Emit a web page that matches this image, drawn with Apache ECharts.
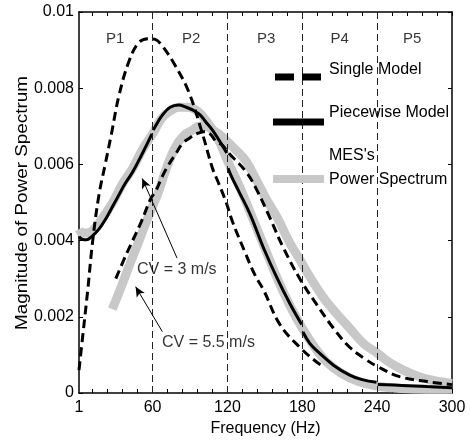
<!DOCTYPE html>
<html><head><meta charset="utf-8">
<script src="https://cdn.jsdelivr.net/npm/echarts@6/dist/echarts.min.js"></script>
<style>html,body{margin:0;padding:0;background:#fff}#c{width:470px;height:443px}</style>
</head><body><div id="c"></div>
<script>
// ---- axis ticks / labels ----
const xTickLabels = [1, 60, 120, 180, 240, 300];
const xMinorTicks = [12,24,36,48,60,72,84,96,108,120,132,144,156,168,180,192,204,216,228,240,252,264,276,288,300];
const boundaries = [60, 120, 180, 240];
const periodLabels = ['P1', 'P2', 'P3', 'P4', 'P5'];
const periodX = [30, 91, 151, 210, 268];
const periodY = [0.0093, 0.0093, 0.0093, 0.0093, 0.0093];

// ---- Single model, CV = 3 m/s (dashed) ----
const singleCv3X = [1, 4, 8, 12, 17, 22, 27, 33, 41, 49, 57, 62, 68, 78, 89, 100, 108, 113, 119, 124, 134, 142, 149, 162, 178, 192, 197];
const singleCv3Y = [0.0006, 0.0015, 0.0027, 0.0040, 0.0052, 0.0060, 0.0068, 0.0078, 0.0087, 0.0092, 0.0093, 0.00928, 0.0091, 0.0086, 0.0079, 0.0068, 0.0059, 0.0055, 0.0050, 0.0045, 0.0037, 0.0031, 0.0027, 0.0018, 0.0012, 0.0008, 0.0007];

// ---- Single model, CV = 5.5 m/s (dashed) ----
const singleCv55X = [30.5, 37, 44, 51, 58.5, 62.5, 68, 73, 79, 84, 90, 95, 101, 106, 111, 116, 121, 135, 144, 154, 165, 178, 192, 205, 218, 230, 240, 258, 280, 300];
const singleCv55Y = [0.0030, 0.0035, 0.0040, 0.0045, 0.0051, 0.0053, 0.0057, 0.0060, 0.0063, 0.00655, 0.0067, 0.0068, 0.00686, 0.0068, 0.0066, 0.0065, 0.0063, 0.0058, 0.0053, 0.0046, 0.0038, 0.0030, 0.0023, 0.0017, 0.0012, 0.0009, 0.0007, 0.00043, 0.0003, 0.00022];

// ---- Piecewise model, CV = 3 m/s (solid; null separates the segments) ----
const pieceX = [1, 4, 7, 11, 17, 23, 28, 33, 38, 44, 52, 59.5, null,
                60.5, 64, 68, 74, 81, 87, 92, 98, 103, 108, 113, 119.5, null,
                120.5, 123, 129, 138, 149, 160, 170, 179.5, null,
                180.5, 186, 192, 205, 218, 228, 239.5, null,
                240.5, 260, 280, 300];
const pieceY = [0.0041, 0.00403, 0.00402, 0.0041, 0.0043, 0.0046, 0.0049, 0.0052, 0.0055, 0.0058, 0.0063, 0.0068, null,
                0.0069, 0.0071, 0.0073, 0.0075, 0.00756, 0.0075, 0.00743, 0.0073, 0.0071, 0.0069, 0.00665, 0.0063, null,
                0.0059, 0.0057, 0.0053, 0.0047, 0.0038, 0.0030, 0.00235, 0.0018, null,
                0.0016, 0.0013, 0.0011, 0.00073, 0.00047, 0.00035, 0.00028, null,
                0.00022, 0.0002, 0.00017, 0.00014];

// ---- MES's power spectrum, CV = 3 m/s (gray) ----
const mesCv3X = [1, 4, 8, 13, 20, 28, 36, 44, 52, 60, 67, 74, 81, 88, 96, 104, 112, 120, 130, 140, 150, 160, 170, 180, 190, 200, 212, 225, 240, 260, 280, 300];
const mesCv3Y = [0.0043, 0.0042, 0.0042, 0.0043, 0.0046, 0.0050, 0.0055, 0.0059, 0.0064, 0.0068, 0.0072, 0.0074, 0.0075, 0.0075, 0.0074, 0.0071, 0.0067, 0.0061, 0.0054, 0.0046, 0.0038, 0.0030, 0.0023, 0.0017, 0.0012, 0.0008, 0.0005, 0.0003, 0.00018, 0.00012, 0.0001, 0.0001];

// ---- MES's power spectrum, CV = 5.5 m/s (gray) ----
const mesCv55X = [27.7, 35, 42, 48, 55, 60, 65, 70, 76, 81, 86.5, 92, 97, 103, 108, 113, 118.6, 126, 134.6, 143, 151, 160, 169, 178, 187, 197, 207, 218, 229, 240, 250, 261, 272, 282, 292, 300];
const mesCv55Y = [0.0022, 0.0028, 0.0034, 0.0039, 0.0045, 0.0049, 0.0053, 0.0058, 0.0063, 0.0066, 0.0068, 0.0069, 0.0070, 0.0070, 0.0069, 0.0068, 0.00664, 0.0064, 0.0061, 0.0056, 0.0051, 0.0046, 0.0040, 0.0035, 0.0030, 0.0025, 0.0021, 0.0017, 0.0013, 0.00105, 0.0008, 0.0006, 0.00045, 0.00035, 0.00029, 0.00025];

// ---- annotations ----
const cvLabels = ['CV = 3 m/s', 'CV = 5.5 m/s'];
const cvLabelX = [47.5, 67.5];
const cvLabelY = [0.00323, 0.00131];
const arrowFromX = [79.6, 67.8];
const arrowFromY = [0.00354, 0.00161];
const arrowToX = [51.7, 46.4];
const arrowToY = [0.00563, 0.00279];

const FONT = '"Liberation Sans", Arial, sans-serif';
const pairs = (xs, ys) => xs.map((x, i) => [x, ys[i]]);

// split piecewise into segments
const pieceSegments = [];
let cur = [];
pieceX.forEach((x, i) => {
  if (x === null) { pieceSegments.push(cur); cur = []; }
  else cur.push([x, pieceY[i]]);
});
if (cur.length) pieceSegments.push(cur);

const chart = echarts.init(document.getElementById('c'), null, {renderer: 'canvas'});

const axisLineStyle = {show: true, onZero: false, lineStyle: {color: '#000', width: 1.5}};
const xAxisBase = {
  type: 'value', min: 1, max: 300,
  axisLine: axisLineStyle,
  axisTick: {show: true, inside: true, length: 4, customValues: xMinorTicks, lineStyle: {color: '#000', width: 1}},
  splitLine: {show: false}
};
const yAxisBase = {
  type: 'value', min: 0, max: 0.01, interval: 0.002,
  axisLine: axisLineStyle,
  axisTick: {show: true, inside: true, length: 4, lineStyle: {color: '#000', width: 1}},
  splitLine: {show: false}
};

const series = [];
series.push({
  name: "MES's Power Spectrum", type: 'line', data: pairs(mesCv3X, mesCv3Y),
  symbol: 'none', smooth: 0.4, lineStyle: {color: '#c8c8c8', width: 9}, z: 1, silent: true
});
series.push({
  name: "MES's Power Spectrum", type: 'line', data: pairs(mesCv55X, mesCv55Y),
  symbol: 'none', smooth: 0.4, lineStyle: {color: '#c8c8c8', width: 9}, z: 1, silent: true
});
series.push({
  name: 'boundaries', type: 'line', data: [], symbol: 'none', z: 2, silent: true,
  markLine: {
    silent: true, symbol: ['none', 'none'], label: {show: false}, animation: false,
    lineStyle: {type: [7, 4], color: '#222', width: 1},
    data: boundaries.map(v => ({xAxis: v}))
  }
});
series.push({
  name: 'Single Model', type: 'line', data: pairs(singleCv3X, singleCv3Y),
  symbol: 'none', smooth: 0.4, lineStyle: {color: '#000', width: 3, type: [9, 5]}, z: 3, silent: true
});
series.push({
  name: 'Single Model', type: 'line', data: pairs(singleCv55X, singleCv55Y),
  symbol: 'none', smooth: 0.4, lineStyle: {color: '#000', width: 3, type: [9, 5]}, z: 3, silent: true
});
pieceSegments.forEach(seg => {
  series.push({
    name: 'Piecewise Model', type: 'line', data: seg,
    symbol: 'none', smooth: 0.4, lineStyle: {color: '#000', width: 3}, z: 4, silent: true
  });
});
series.push({
  name: 'periods', type: 'scatter', symbolSize: 0, silent: true, z: 5,
  data: periodLabels.map((t, i) => [periodX[i], periodY[i], t]),
  label: {show: true, position: 'inside', formatter: p => p.data[2], color: '#000', fontSize: 15, fontFamily: FONT}
});
series.push({
  name: 'cv', type: 'scatter', symbolSize: 0, silent: true, z: 5,
  data: cvLabels.map((t, i) => [cvLabelX[i], cvLabelY[i], t]),
  label: {show: true, position: 'right', distance: 0, formatter: p => p.data[2], color: '#000', fontSize: 16, fontFamily: FONT},
  markLine: {
    silent: true, symbol: ['none', 'arrow'], symbolSize: [7, 10], label: {show: false}, animation: false,
    lineStyle: {type: 'solid', color: '#000', width: 1},
    data: cvLabels.map((t, i) => [{coord: [arrowFromX[i], arrowFromY[i]]}, {coord: [arrowToX[i], arrowToY[i]]}])
  }
});

const option = {
  animation: false,
  backgroundColor: '#fff',
  grid: {left: 79, right: 18, top: 12, bottom: 50},
  xAxis: [
    Object.assign({}, xAxisBase, {
      position: 'bottom',
      axisLabel: {customValues: xTickLabels, color: '#000', fontSize: 16, fontFamily: FONT, margin: 7},
      name: 'Frequency (Hz)', nameLocation: 'middle', nameGap: 28,
      nameTextStyle: {color: '#000', fontSize: 16, fontFamily: FONT}
    }),
    Object.assign({}, xAxisBase, {position: 'top', axisLabel: {show: false}})
  ],
  yAxis: [
    Object.assign({}, yAxisBase, {
      position: 'left',
      axisLabel: {color: '#000', fontSize: 16, fontFamily: FONT, margin: 5,
        formatter: v => v === 0 ? '0' : String(+v.toFixed(3))}
    }),
    Object.assign({}, yAxisBase, {position: 'right', axisLabel: {show: false}})
  ],
  series: series,
  graphic: [
    {type: 'text', x: 23, y: 203, rotation: Math.PI / 2, scaleX: 1.18, scaleY: 1,
      style: {text: 'Magnitude of Power Spectrum', fontSize: 16, fontFamily: FONT, fill: '#000', align: 'center', verticalAlign: 'middle'}, z: 10},
    {type: 'line', shape: {x1: 275, y1: 77, x2: 321, y2: 77}, style: {stroke: '#000', lineWidth: 7, lineDash: [19, 8]}, z: 10},
    {type: 'text', x: 329, y: 70, style: {text: 'Single Model', fontSize: 16, fontFamily: FONT, fill: '#000', verticalAlign: 'middle', align: 'left'}, z: 10},
    {type: 'line', shape: {x1: 273, y1: 122, x2: 324, y2: 122}, style: {stroke: '#000', lineWidth: 7}, z: 10},
    {type: 'text', x: 329, y: 113, style: {text: 'Piecewise Model', fontSize: 16, fontFamily: FONT, fill: '#000', verticalAlign: 'middle', align: 'left'}, z: 10},
    {type: 'line', shape: {x1: 273, y1: 179, x2: 324, y2: 179}, style: {stroke: '#c8c8c8', lineWidth: 8}, z: 10},
    {type: 'text', x: 329, y: 156, style: {text: "MES's", fontSize: 16, fontFamily: FONT, fill: '#000', verticalAlign: 'middle', align: 'left'}, z: 10},
    {type: 'text', x: 329, y: 180, style: {text: 'Power Spectrum', fontSize: 16, fontFamily: FONT, fill: '#000', verticalAlign: 'middle', align: 'left'}, z: 10}
  ]
};
chart.setOption(option);
</script>
</body></html>
